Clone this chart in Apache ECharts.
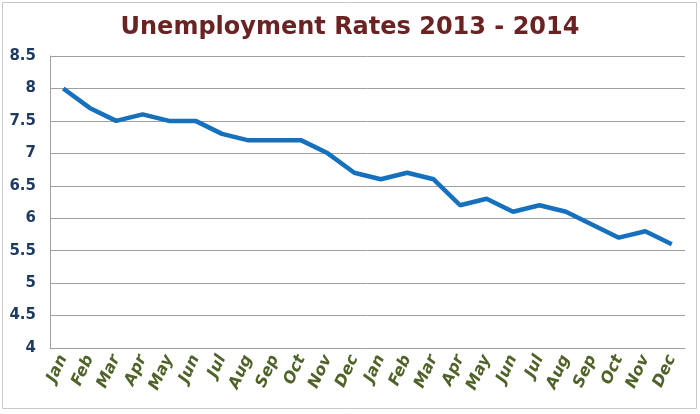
<!DOCTYPE html>
<html>
<head>
<meta charset="utf-8">
<script src="https://cdn.jsdelivr.net/npm/echarts@6/dist/echarts.min.js"></script>
<style>
  html, body { margin: 0; padding: 0; background: #fff; }
  #main { width: 700px; height: 414px; }
</style>
</head>
<body>
<div id="main"></div>
<script>
// 2013 + 2014 months
const months = ['Jan', 'Feb', 'Mar', 'Apr', 'May', 'Jun', 'Jul', 'Aug', 'Sep', 'Oct', 'Nov', 'Dec',
    'Jan', 'Feb', 'Mar', 'Apr', 'May', 'Jun', 'Jul', 'Aug', 'Sep', 'Oct', 'Nov', 'Dec']
const rates = [8.0, 7.7, 7.5, 7.6, 7.5, 7.5, 7.3, 7.2, 7.2, 7.2, 7.0, 6.7,
    6.6, 6.7, 6.6, 6.2, 6.3, 6.1, 6.2, 6.1, 5.9, 5.7, 5.8, 5.6]
const yMin = 4
const yMax = 8.5
const yStep = 0.5

const chart = echarts.init(document.getElementById('main'))

let option = {
    backgroundColor: '#fff',
    title: {
        text: 'Unemployment Rates 2013 - 2014',
        left: 'center',
        top: 11,
        textStyle: {
            color: '#6b2222',
            fontSize: 24,
            fontWeight: 'bold',
            fontFamily: 'DejaVu Sans'
        }
    },
    graphic: [{
        type: 'rect',
        shape: {x: 2.5, y: 2.5, width: 694, height: 406},
        style: {fill: 'none', stroke: '#c8c8c8', lineWidth: 1},
        silent: true
    }],
    grid: {
        left: 50,
        right: 15,
        top: 56,
        bottom: 66
    },
    xAxis: {
        type: 'category',
        data: months,
        boundaryGap: true,
        axisLine: {lineStyle: {color: '#a0a0a0', width: 1}},
        axisTick: {show: false},
        axisLabel: {
            interval: 0,
            rotate: 65,
            margin: 8,
            color: '#4f6228',
            fontSize: 16,
            fontWeight: 'bold',
            fontStyle: 'italic',
            fontFamily: 'DejaVu Sans'
        }
    },
    yAxis: {
        type: 'value',
        min: yMin,
        max: yMax,
        interval: yStep,
        axisLine: {show: true, lineStyle: {color: '#a0a0a0', width: 1}},
        axisTick: {show: false},
        splitLine: {lineStyle: {color: '#a0a0a0', width: 1}},
        axisLabel: {
            margin: 14,
            color: '#1f3a5f',
            fontSize: 15,
            fontWeight: 'bold',
            fontFamily: 'DejaVu Sans'
        }
    },
    series: [{
        type: 'line',
        data: rates,
        symbol: 'none',
        lineStyle: {color: '#1570be', width: 4.5},
        animation: false
    }],
    animation: false
}
chart.setOption(option)
</script>
</body>
</html>
